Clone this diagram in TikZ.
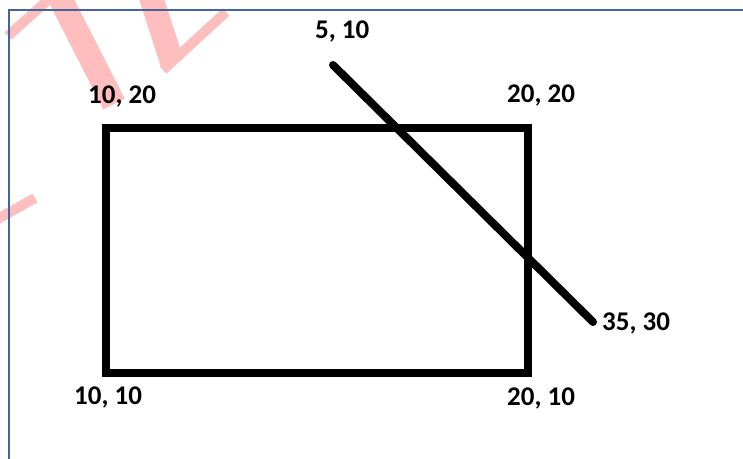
\documentclass[tikz,border=0pt]{standalone}
\usepackage{fontspec}
\setmainfont{Carlito}
\usepackage{tikz}
\usetikzlibrary{positioning,calc}
\usepackage{xcolor}
\definecolor{cFrame}{RGB}{68,100,160}
\definecolor{cMark}{RGB}{255,190,190}

\begin{document}
\begin{tikzpicture}[x=1pt, y=-1pt,
    lbl/.style={font=\fontsize{27}{30}\selectfont\bfseries, inner sep=0pt, anchor=base west},
    edge/.style={line width=8pt, black},
    wmark/.style={cMark, line cap=butt}]
  \useasboundingbox (0,0) rectangle (743,458);
  % watermark pieces
  \draw[wmark, line width=24pt] (58,-6) -- (114,104);
  \draw[wmark, line width=10pt] (8,36) -- (48,0);
  \draw[wmark, line width=24pt] (150,-6) -- (172,62);
  \draw[wmark, line width=10pt] (163,70) -- (226,12);
  \draw[wmark, line width=10pt] (-4,220) -- (35,198);
  % frame
  \draw[cFrame, line width=2pt] (9,460) -- (9,10) -- (745,10);
  % corners
  \coordinate (tl) at (105.5,127.5);
  \coordinate (tr) at (528,127.5);
  \coordinate (br) at (528,373);
  \coordinate (bl) at (105.5,373);
  \draw[edge] (tl) -- (tr) -- (br) -- (bl) -- cycle;
  % cutting line
  \coordinate (p) at (333,65);
  \coordinate (q) at (593,322);
  \draw[edge, line cap=round] (p) -- (q);
  % labels
  \node[lbl] (lp) at (315,38) {5, 10};
  \node[lbl] (ltl) at (88,103) {10, 20};
  \node[lbl] (ltr) at (507,102) {20, 20};
  \node[lbl] (lbl) at (74,404) {10, 10};
  \node[lbl] (lbr) at (507,405) {20, 10};
  \node[lbl] (lq) at (602,330) {35, 30};
\end{tikzpicture}
\end{document}
